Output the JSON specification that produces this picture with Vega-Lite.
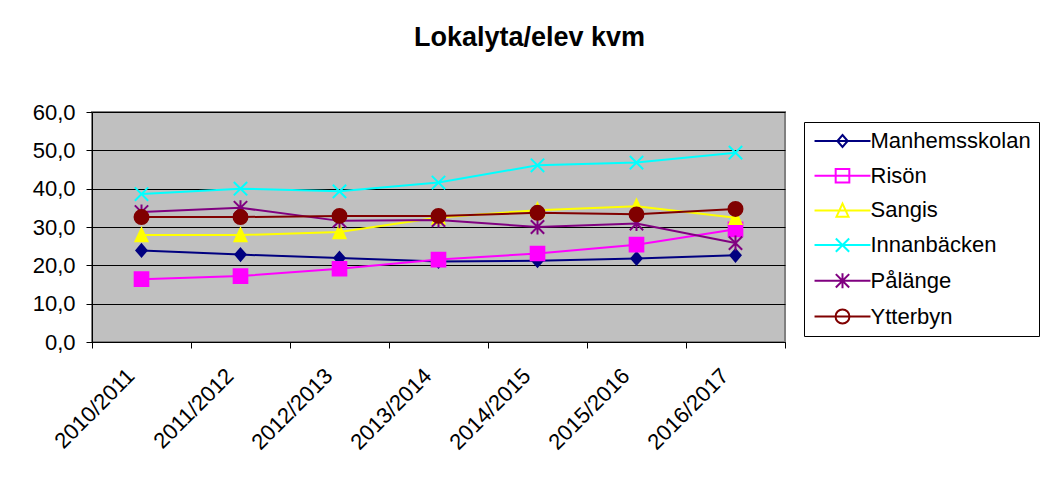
{
  "$schema": "https://vega.github.io/schema/vega-lite/v6.json",
  "width": 693,
  "height": 230,
  "autosize": "none",
  "padding": {"left": 92, "top": 112, "right": 260, "bottom": 137},
  "background": "white",
  "title": {"text": "Lokalyta/elev kvm", "font": "Liberation Sans", "fontSize": 27, "fontWeight": "bold", "color": "black", "anchor": "middle", "dx": 91, "baseline": "alphabetic", "offset": 28},
  "data": {"values": [
    {"year": "2010/2011", "school": "Manhemsskolan", "value": 23.9},
    {"year": "2011/2012", "school": "Manhemsskolan", "value": 22.8},
    {"year": "2012/2013", "school": "Manhemsskolan", "value": 21.9},
    {"year": "2013/2014", "school": "Manhemsskolan", "value": 21.0},
    {"year": "2014/2015", "school": "Manhemsskolan", "value": 21.2},
    {"year": "2015/2016", "school": "Manhemsskolan", "value": 21.8},
    {"year": "2016/2017", "school": "Manhemsskolan", "value": 22.6},
    {"year": "2010/2011", "school": "Risön", "value": 16.4},
    {"year": "2011/2012", "school": "Risön", "value": 17.2},
    {"year": "2012/2013", "school": "Risön", "value": 19.1},
    {"year": "2013/2014", "school": "Risön", "value": 21.5},
    {"year": "2014/2015", "school": "Risön", "value": 23.1},
    {"year": "2015/2016", "school": "Risön", "value": 25.4},
    {"year": "2016/2017", "school": "Risön", "value": 29.4},
    {"year": "2010/2011", "school": "Sangis", "value": 27.9},
    {"year": "2011/2012", "school": "Sangis", "value": 27.9},
    {"year": "2012/2013", "school": "Sangis", "value": 28.7},
    {"year": "2013/2014", "school": "Sangis", "value": 32.5},
    {"year": "2014/2015", "school": "Sangis", "value": 34.4},
    {"year": "2015/2016", "school": "Sangis", "value": 35.4},
    {"year": "2016/2017", "school": "Sangis", "value": 32.4},
    {"year": "2010/2011", "school": "Innanbäcken", "value": 38.6},
    {"year": "2011/2012", "school": "Innanbäcken", "value": 40.0},
    {"year": "2012/2013", "school": "Innanbäcken", "value": 39.3},
    {"year": "2013/2014", "school": "Innanbäcken", "value": 41.6},
    {"year": "2014/2015", "school": "Innanbäcken", "value": 46.1},
    {"year": "2015/2016", "school": "Innanbäcken", "value": 46.8},
    {"year": "2016/2017", "school": "Innanbäcken", "value": 49.4},
    {"year": "2010/2011", "school": "Pålänge", "value": 33.9},
    {"year": "2011/2012", "school": "Pålänge", "value": 35.0},
    {"year": "2012/2013", "school": "Pålänge", "value": 31.6},
    {"year": "2013/2014", "school": "Pålänge", "value": 31.8},
    {"year": "2014/2015", "school": "Pålänge", "value": 30.0},
    {"year": "2015/2016", "school": "Pålänge", "value": 30.9},
    {"year": "2016/2017", "school": "Pålänge", "value": 25.8},
    {"year": "2010/2011", "school": "Ytterbyn", "value": 32.6},
    {"year": "2011/2012", "school": "Ytterbyn", "value": 32.6},
    {"year": "2012/2013", "school": "Ytterbyn", "value": 32.9},
    {"year": "2013/2014", "school": "Ytterbyn", "value": 32.9},
    {"year": "2014/2015", "school": "Ytterbyn", "value": 33.7},
    {"year": "2015/2016", "school": "Ytterbyn", "value": 33.3},
    {"year": "2016/2017", "school": "Ytterbyn", "value": 34.7}
  ]},
  "encoding": {
    "x": {"field": "year", "type": "nominal", "sort": null, "bandPosition": 0.5,
      "scale": {"type": "band", "paddingInner": 0, "paddingOuter": 0},
      "axis": {"title": null, "labelAngle": -45, "labelAlign": "right", "labelBaseline": "middle", "tickBand": "extent", "tickSize": 6, "labelPadding": 24, "labelOffset": -11, "labelFontSize": 22, "labelFont": "Liberation Sans", "labelColor": "black", "domainColor": "black", "tickColor": "black", "grid": false}},
    "y": {"field": "value", "type": "quantitative",
      "scale": {"domain": [0, 60], "nice": false},
      "axis": {"title": null, "values": [0, 10, 20, 30, 40, 50, 60], "labelExpr": "replace(format(datum.value, '.1f'), '.', ',')", "grid": true, "gridColor": "black", "gridOpacity": 1, "domainColor": "black", "tickColor": "black", "tickSize": 6, "labelPadding": 11, "labelFontSize": 22, "labelFont": "Liberation Sans", "labelColor": "black"}}
  },
  "layer": [
    {"mark": {"type": "line", "strokeWidth": 2},
      "encoding": {"color": {"field": "school", "type": "nominal", "legend": null,
        "scale": {"domain": ["Ytterbyn", "Pålänge", "Innanbäcken", "Sangis", "Risön", "Manhemsskolan"], "range": ["#800000", "#800080", "#00FFFF", "#FFFF00", "#FF00FF", "#000080"]}}}},
    {"mark": {"type": "point", "filled": true, "opacity": 0, "size": 225, "strokeWidth": 2,
        "stroke": {"expr": "scale('fill', datum.school || datum.value)"}},
      "encoding": {
        "fill": {"field": "school", "type": "nominal",
          "scale": {"domain": ["Manhemsskolan", "Risön", "Sangis", "Innanbäcken", "Pålänge", "Ytterbyn"], "range": ["#000080", "#FF00FF", "#FFFF00", "#00FFFF", "#800080", "#800000"]},
          "legend": {"title": null, "orient": "none", "legendX": 712, "legendY": 10, "direction": "vertical", "strokeColor": "black", "fillColor": "white", "padding": 8, "symbolSize": 225, "symbolStrokeWidth": 2, "symbolOpacity": 1, "symbolOffset": 19.5, "labelOffset": 17, "labelFontSize": 22, "labelFont": "Liberation Sans", "labelColor": "black", "rowPadding": 12.7, "labelLimit": 300}},
        "shape": {"field": "school", "type": "nominal",
          "scale": {"domain": ["Manhemsskolan", "Risön", "Sangis", "Innanbäcken", "Pålänge", "Ytterbyn"],
            "range": ["M-3.73,0H3.73M0,-0.8L0.69,0L0,0.8L-0.69,0Z", "M-3.73,0H3.73M-0.91,-0.91H0.91V0.91H-0.91Z", "M-3.73,0H3.73M0,-0.9L0.8,0.83L-0.8,0.83Z", "M-3.73,0H3.73M-0.89,-0.89L0.89,0.89M-0.89,0.89L0.89,-0.89", "M-3.73,0H3.73M-0.89,-0.89L0.89,0.89M-0.89,0.89L0.89,-0.89M0,-1L0,1", "M-3.73,0H3.73M-0.93,0A0.93,0.93,0,1,1,0.93,0A0.93,0.93,0,1,1,-0.93,0Z"]}}
      }},
    {"mark": {"type": "point", "filled": true, "opacity": 1, "size": 225, "strokeWidth": 2,
        "stroke": {"expr": "scale('color', datum.school)"},
        "shape": {"expr": "datum.school === 'Manhemsskolan' ? 'M0,-0.8L0.69,0L0,0.8L-0.69,0Z' : datum.school === 'Risön' ? 'M-0.91,-0.91H0.91V0.91H-0.91Z' : datum.school === 'Sangis' ? 'M0,-0.9L0.8,0.83L-0.8,0.83Z' : datum.school === 'Innanbäcken' ? 'M-0.89,-0.89L0.89,0.89M-0.89,0.89L0.89,-0.89' : datum.school === 'Pålänge' ? 'M-0.89,-0.89L0.89,0.89M-0.89,0.89L0.89,-0.89M0,-1L0,1' : 'M-0.93,0A0.93,0.93,0,1,1,0.93,0A0.93,0.93,0,1,1,-0.93,0Z'"}},
      "encoding": {"color": {"field": "school", "type": "nominal", "legend": null}}}
  ],
  "config": {"view": {"fill": "#C0C0C0", "stroke": "#808080", "strokeWidth": 2}}
}
